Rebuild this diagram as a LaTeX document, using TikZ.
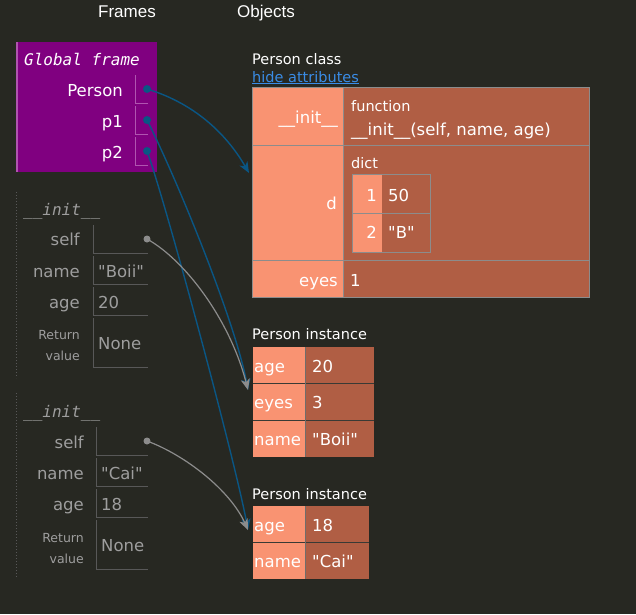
\documentclass[tikz,border=0pt]{standalone}
\usepackage{fontspec}
\setmainfont{DejaVu Sans}[Ligatures=TeXOff]
\newfontfamily\headfont{Liberation Sans}
\newfontfamily\framefont{DejaVu Sans Mono}
\usetikzlibrary{arrows.meta}

\definecolor{bgdark}{RGB}{39,40,34}
\definecolor{gpurple}{RGB}{128,0,128}
\definecolor{gline}{RGB}{176,84,176}
\definecolor{fgray}{RGB}{158,158,158}
\definecolor{fline}{RGB}{88,88,88}
\definecolor{keyfill}{RGB}{249,147,114}
\definecolor{valfill}{RGB}{176,94,68}
\definecolor{tgrid}{RGB}{140,140,140}
\definecolor{ptrblue}{RGB}{10,86,132}
\definecolor{ptrgray}{RGB}{140,140,140}
\definecolor{linkblue}{RGB}{58,140,230}
\newcommand{\qstr}[1]{\symbol{34}#1\symbol{34}}

\begin{document}
\begin{tikzpicture}[x=1pt, y=-1pt,
    head/.style={anchor=base west, inner sep=0pt, text=white, font=\headfont\fontsize{17}{19}\selectfont},
    fname/.style={anchor=base west, inner sep=0pt, font=\framefont\itshape\fontsize{16}{18}\selectfont},
    lbl/.style={anchor=base east, inner sep=0pt, font=\fontsize{16.5}{18}\selectfont},
    val/.style={anchor=base west, inner sep=0pt, font=\fontsize{16.5}{18}\selectfont},
    small/.style={inner sep=0pt, font=\fontsize{14.5}{16}\selectfont},
    tiny/.style={anchor=base east, inner sep=0pt, text=fgray, font=\fontsize{12.5}{14}\selectfont},
    gdot/.style={circle, fill=ptrblue, inner sep=0pt, minimum size=8pt},
    sdot/.style={circle, fill=ptrgray, inner sep=0pt, minimum size=7pt},
    ptr/.style={draw=ptrblue, line width=1.4pt, -{Stealth[length=11pt, width=9pt, inset=3pt]}},
    selfptr/.style={draw=ptrgray, line width=1.2pt, -{Stealth[length=11pt, width=9pt, inset=3pt]}},
    fcell/.style={draw=fline, line width=1pt},
    gcell/.style={draw=gline, line width=1pt},
    tgridline/.style={draw=tgrid, line width=1pt}]
\useasboundingbox[fill=bgdark] (0,0) rectangle (636,614);

\node[head] (frames) at (98,17) {Frames};
\node[head] (objects) at (237,17) {Objects};

% global frame
\fill[gpurple] (16,42) rectangle (157,172);
\draw[gline, line width=1.5pt] (16.75,42) -- (16.75,172);
\node[fname, text=white] (gtitle) at (24,65) {Global frame};
\foreach \y in {75,106,137}
    \draw[gcell] (135.5,\y) |- (148,\y+28);
\node[lbl, text=white] at (123,96) {Person};
\node[lbl, text=white] at (123,127) {p1};
\node[lbl, text=white] at (123,158) {p2};
\node[gdot] (person) at (147,89) {};
\node[gdot] (p1) at (147,120) {};
\node[gdot] (p2) at (147,151) {};

% first __init__ frame
\draw[fline, dotted, line width=1pt] (16.5,192) -- (16.5,378);
\node[fname, text=fgray] at (23,215) {\_\_init\_\_};
\draw[fcell] (93.5,225) |- (148,253);
\draw[fcell] (93.5,256) |- (148,284);
\draw[fcell] (93.5,287) |- (148,315);
\draw[fcell] (93.5,318) |- (148,367);
\node[lbl, text=fgray] at (80,245) {self};
\node[lbl, text=fgray] at (80,277) {name};
\node[lbl, text=fgray] at (80,308) {age};
\node[tiny] at (80,339) {Return};
\node[tiny] at (80,360) {value};
\node[val, text=fgray] at (98,277) {\qstr{Boii}};
\node[val, text=fgray] at (98,308) {20};
\node[val, text=fgray] at (98,349) {None};
\node[sdot] (self1) at (147,239) {};

% second __init__ frame
\draw[fline, dotted, line width=1pt] (16.5,393) -- (16.5,577);
\node[fname, text=fgray] at (23,417) {\_\_init\_\_};
\draw[fcell] (96.5,427) |- (148,455);
\draw[fcell] (96.5,458) |- (148,486);
\draw[fcell] (96.5,489) |- (148,517);
\draw[fcell] (96.5,520) |- (148,569);
\node[lbl, text=fgray] at (84,448) {self};
\node[lbl, text=fgray] at (84,479) {name};
\node[lbl, text=fgray] at (84,510) {age};
\node[tiny] at (84,542) {Return};
\node[tiny] at (84,563) {value};
\node[val, text=fgray] at (101,479) {\qstr{Cai}};
\node[val, text=fgray] at (101,510) {18};
\node[val, text=fgray] at (101,551) {None};
\node[sdot] (self2) at (147,441) {};

% Person class
\node[small, anchor=base west, text=white] at (252,64) {Person class};
\node[small, anchor=base west, text=linkblue] at (252,82) {\underline{hide attributes}};
\fill[keyfill] (252,87) rectangle (343,297);
\fill[valfill] (343,87) rectangle (589,297);
\draw[tgridline] (252,87) rectangle (589,297);
\draw[tgridline] (252,145.5) -- (589,145.5) (252,260) -- (589,260) (343,87) -- (343,297);
\node[lbl, text=white] at (338,123) {\_\_init\_\_};
\node[small, anchor=base west, text=white] at (351,111) {function};
\node[val, text=white] at (351,135) {\_\_init\_\_(self, name, age)};
\node[lbl, text=white] at (337,209) {d};
\node[small, anchor=base west, text=white] at (351,168) {dict};
\fill[keyfill] (352,174) rectangle (382,252);
\fill[valfill] (382,174) rectangle (430,252);
\draw[tgridline] (352,174) rectangle (430,252) (352,213) -- (430,213);
\node[lbl, text=white] at (377,201) {1};
\node[val, text=white] at (388,201) {50};
\node[lbl, text=white] at (377,238) {2};
\node[val, text=white] at (388,238) {\qstr{B}};
\node[lbl, text=white] at (338,286) {eyes};
\node[val, text=white] at (350,286) {1};

% first Person instance
\node[small, anchor=base west, text=white] at (252,339) {Person instance};
\fill[keyfill] (253,347) rectangle (305,457);
\fill[valfill] (305,347) rectangle (374,457);
\draw[bgdark!80!gray, line width=1pt] (253,383.7) -- (374,383.7) (253,420.7) -- (374,420.7);
\draw[tgrid!70!bgdark, line width=1pt] (305.5,347) -- (305.5,457);
\node[val, text=white] at (254,372) {age};
\node[val, text=white] at (254,408) {eyes};
\node[val, text=white] at (254,445) {name};
\node[val, text=white] at (312,372) {20};
\node[val, text=white] at (312,408) {3};
\node[val, text=white] at (312,445) {\qstr{Boii}};

% second Person instance
\node[small, anchor=base west, text=white] at (252,499) {Person instance};
\fill[keyfill] (253,506) rectangle (305,579);
\fill[valfill] (305,506) rectangle (369,579);
\draw[bgdark!80!gray, line width=1pt] (253,542) -- (369,542);
\draw[tgrid!70!bgdark, line width=1pt] (305.5,506) -- (305.5,579);
\node[val, text=white] at (254,531) {age};
\node[val, text=white] at (254,567) {name};
\node[val, text=white] at (312,531) {18};
\node[val, text=white] at (312,567) {\qstr{Cai}};

% pointers
\coordinate (clsin) at (249,173);
\coordinate (inst1in) at (248,390);
\coordinate (inst2in) at (248,530);
\draw[ptr] (person.center) .. controls (200,105) and (230,140) .. (clsin);
\draw[ptr] (p1.center) .. controls (175,175) and (235,320) .. (inst1in);
\draw[ptr] (p2.center) .. controls (165,200) and (235,460) .. (inst2in);
\draw[selfptr] (self1.center) .. controls (185,260) and (230,320) .. (inst1in);
\draw[selfptr] (self2.center) .. controls (185,455) and (230,490) .. (inst2in);
\end{tikzpicture}
\end{document}
